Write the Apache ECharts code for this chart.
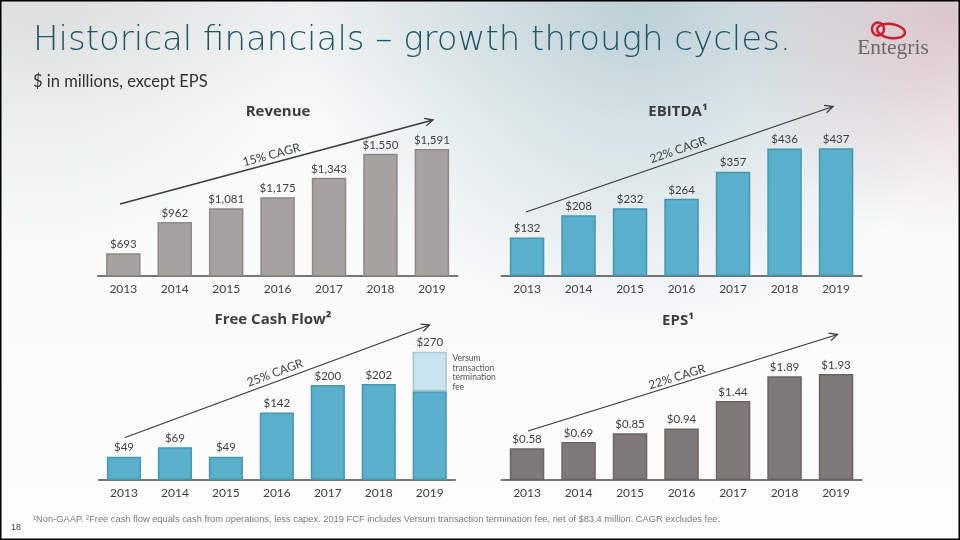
<!DOCTYPE html>
<html>
<head>
<meta charset="utf-8">
<script src="https://cdn.jsdelivr.net/npm/echarts@6/dist/echarts.min.js"></script>
<style>
html,body{margin:0;padding:0;background:#fff;}
#c{width:960px;height:540px;}
</style>
</head>
<body>
<div id="c"></div>
<script>
const years = ['2013','2014','2015','2016','2017','2018','2019'];
const revenue = [693, 962, 1081, 1175, 1343, 1550, 1591];
const ebitda = [132, 208, 232, 264, 357, 436, 437];
const fcfBase = [49, 69, 49, 142, 200, 202, 186.6];
const fcfFee = [null, null, null, null, null, null, 83.4];
const fcfTotal = [49, 69, 49, 142, 200, 202, 270];
const eps = [0.58, 0.69, 0.85, 0.94, 1.44, 1.89, 1.93];

const FONT = 'Lato, "Open Sans", sans-serif';
const TXT = '#404040';

function money0(v){ return '$' + Math.round(v).toLocaleString('en-US'); }
function money2(v){ return '$' + v.toFixed(2); }

function arrow(x1, y1, x2, y2){
  const a = Math.atan2(y2 - y1, x2 - x1);
  const L = 9, t = 0.45;
  const p1 = [x2 - L*Math.cos(a - t), y2 - L*Math.sin(a - t)];
  const p2 = [x2 - L*Math.cos(a + t), y2 - L*Math.sin(a + t)];
  return [
    {type:'line', shape:{x1, y1, x2, y2}, style:{stroke:'#3a3a3a', lineWidth:1.3}, z:5},
    {type:'polyline', shape:{points:[p1,[x2,y2],p2]}, style:{stroke:'#3a3a3a', lineWidth:1.3, fill:null}, z:5}
  ];
}
function cagr(text, x, y, deg){
  return {type:'text', x, y, rotation: deg*Math.PI/180, z:5,
    style:{text, font:'12px ' + FONT, fill:TXT, align:'center', verticalAlign:'middle'}};
}
function title(text, x, y){
  return {type:'text', x, y, z:5,
    style:{text, font:'bold 15px "Open Sans", sans-serif', fill:'#3d3d3d', align:'center', verticalAlign:'middle'}};
}

const grids = [
  {left:97.6, width:360, top:148, height:127.7},
  {left:501.3, width:360.5, top:147.4, height:128.6},
  {left:98.5, width:356.7, top:347, height:133},
  {left:501.3, width:360.5, top:370.2, height:109.8}
];
const yRanges = [[500,1600],[0,440],[0,280],[0,2.0]];

const xAxes = grids.map((g,i)=>({
  type:'category', gridIndex:i, data:years,
  axisLine:{lineStyle:{color:'#4a4a4a', width:1.5}},
  axisTick:{show:false},
  axisLabel:{color:TXT, fontSize:12, fontFamily:FONT, margin:7}
}));
const yAxes = grids.map((g,i)=>({
  type:'value', gridIndex:i, min:yRanges[i][0], max:yRanges[i][1], show:false, splitLine:{show:false}
}));

const lbl = (fmt)=>({show:true, position:'top', distance:3, color:TXT, fontSize:11.5, fontFamily:FONT, formatter:fmt});

const series = [
  {type:'bar', xAxisIndex:0, yAxisIndex:0, data:revenue, barWidth:'67%',
    itemStyle:{color:'#a7a29f', borderColor:'#8e8986', borderWidth:1.5},
    label:lbl(p=>money0(p.value))},
  {type:'bar', xAxisIndex:1, yAxisIndex:1, data:ebitda, barWidth:'67%',
    itemStyle:{color:'#5aafcb', borderColor:'#4796b0', borderWidth:1.5},
    label:lbl(p=>money0(p.value))},
  {type:'bar', xAxisIndex:2, yAxisIndex:2, data:fcfBase, barWidth:'67%', stack:'fcf',
    itemStyle:{color:'#5aafcb', borderColor:'#4796b0', borderWidth:1.5},
    label:lbl(p=> fcfFee[p.dataIndex] == null ? money0(fcfTotal[p.dataIndex]) : '')},
  {type:'bar', xAxisIndex:2, yAxisIndex:2, data:fcfFee, barWidth:'67%', stack:'fcf',
    itemStyle:{color:'#c8e4ef', borderColor:'#a6c6d2', borderWidth:1.5},
    label:lbl(p=>money0(fcfTotal[p.dataIndex]))},
  {type:'bar', xAxisIndex:3, yAxisIndex:3, data:eps, barWidth:'67%',
    itemStyle:{color:'#7f7a78', borderColor:'#6a6563', borderWidth:1.5},
    label:lbl(p=>money2(p.value))}
];

const bg = [
  {type:'rect', z:-10, silent:true, shape:{x:0,y:0,width:960,height:540},
    style:{fill:{type:'linear',x:0,y:0,x2:0,y2:1,colorStops:[
      {offset:0,color:'#eceeef'},{offset:0.22,color:'#f8f9f9'},{offset:1,color:'#fdfdfd'}]}}},
  {type:'circle', z:-9, silent:true, shape:{cx:640,cy:10,r:330},
    style:{fill:{type:'radial',x:0.5,y:0.5,r:0.5,colorStops:[
      {offset:0,color:'rgba(140,178,190,0.5)'},{offset:1,color:'rgba(140,178,190,0)'}]}}},
  {type:'circle', z:-9, silent:true, shape:{cx:950,cy:20,r:220},
    style:{fill:{type:'radial',x:0.5,y:0.5,r:0.5,colorStops:[
      {offset:0,color:'rgba(205,160,170,0.5)'},{offset:1,color:'rgba(205,160,170,0)'}]}}},
  {type:'circle', z:-9, silent:true, shape:{cx:40,cy:0,r:260},
    style:{fill:{type:'radial',x:0.5,y:0.5,r:0.5,colorStops:[
      {offset:0,color:'rgba(190,190,190,0.35)'},{offset:1,color:'rgba(190,190,190,0)'}]}}},
  {type:'rect', z:20, silent:true, shape:{x:0.75,y:0.75,width:958.5,height:538.5},
    style:{fill:null, stroke:'#000', lineWidth:1.5}}
];

const texts = [
  {type:'text', x:33, y:41, z:5, style:{text:'Historical financials – growth through cycles.',
    font:'200 34px "DejaVu Sans ExtraLight", "DejaVu Sans", sans-serif', fill:'#1d5667', align:'left', verticalAlign:'middle'}},
  {type:'text', x:33, y:82, z:5, style:{text:'$ in millions, except EPS',
    font:'16.5px ' + FONT, fill:'#333', align:'left', verticalAlign:'middle'}},
  {type:'text', x:893, y:48, z:5, style:{text:'Entegris',
    font:'21.5px "Liberation Serif", serif', fill:'#6b6867', align:'center', verticalAlign:'middle'}},
  {type:'ellipse', z:5, shape:{cx:878, cy:29, rx:6, ry:6.5},
    style:{fill:null, stroke:'#c8202f', lineWidth:2.5}},
  {type:'ellipse', z:5, shape:{cx:891, cy:31, rx:14, ry:7}, rotation:-0.15, originX:891, originY:31,
    style:{fill:null, stroke:'#c8202f', lineWidth:2.5}},
  title('Revenue', 278, 112),
  title('EBITDA¹', 678, 112),
  title('Free Cash Flow²', 273, 320),
  title('EPS¹', 678, 321),
  cagr('15% CAGR', 271.5, 155, 15),
  cagr('22% CAGR', 678, 150, 19),
  cagr('25% CAGR', 275, 373, 20.3),
  cagr('22% CAGR', 677, 377, 17.4),
  {type:'text', x:452.5, y:353.5, z:5, style:{text:'Versum\ntransaction\ntermination\nfee',
    font:'8.5px ' + FONT, fill:'#555', align:'left', verticalAlign:'top', lineHeight:9.7}},
  {type:'text', x:33, y:519, z:5, style:{text:'¹Non-GAAP. ²Free cash flow equals cash from operations, less capex. 2019 FCF includes Versum transaction termination fee, net of $83.4 million. CAGR excludes fee.',
    font:'9.3px "Liberation Sans Narrow", "Liberation Sans", sans-serif', fill:'#7a7a7a', align:'left', verticalAlign:'middle'}},
  {type:'text', x:11, y:528, z:5, style:{text:'18',
    font:'9px "Liberation Sans Narrow", "Liberation Sans", sans-serif', fill:'#444', align:'left', verticalAlign:'middle'}}
];

const arrows = [].concat(
  arrow(120, 204, 433, 120),
  arrow(526, 212, 833, 106.5),
  arrow(125, 437.5, 429.5, 325),
  arrow(528, 431, 837.5, 334.5)
);

const chart = echarts.init(document.getElementById('c'), null, {renderer:'canvas'});
chart.setOption({
  animation:false,
  backgroundColor:'transparent',
  grid:grids,
  xAxis:xAxes,
  yAxis:yAxes,
  series:series,
  graphic:{elements: bg.concat(texts, arrows)}
});
</script>
</body>
</html>
